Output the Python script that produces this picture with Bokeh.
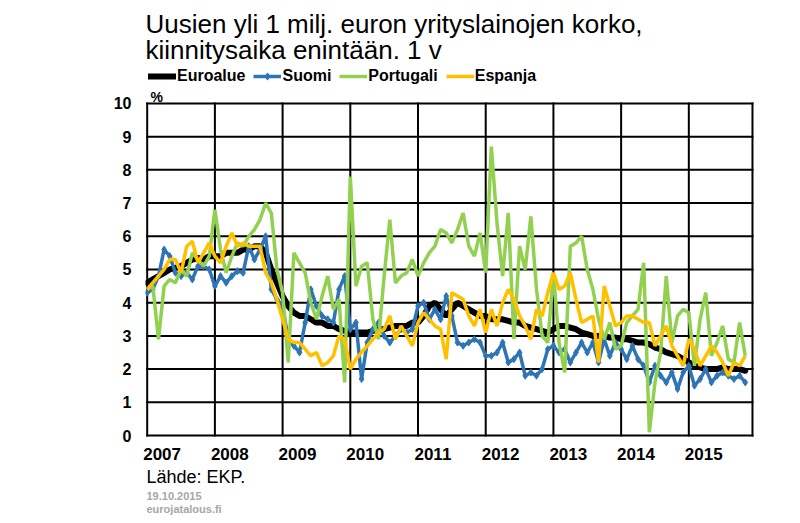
from bokeh.plotting import figure
from bokeh.models import (Range1d, FixedTicker, CustomJSTickFormatter, Title, Label,
                          Legend, LegendItem)
from bokeh.embed import file_html
from bokeh.resources import INLINE

# ---------------- data (monthly, from Jan 2007) ----------------
years = [2007, 2008, 2009, 2010, 2011, 2012, 2013, 2014, 2015]
y_ticks = [0, 1, 2, 3, 4, 5, 6, 7, 8, 9, 10]

euroalue = [
    4.6, 4.7, 4.8, 4.9, 5.0, 5.05, 5.1, 5.2, 5.3, 5.35, 5.3, 5.4,
    5.4, 5.4, 5.5, 5.5, 5.5, 5.6, 5.6, 5.7, 5.7, 5.5, 5.0, 4.6,
    4.2, 3.9, 3.7, 3.6, 3.6, 3.5, 3.4, 3.4, 3.3, 3.3, 3.2, 3.15,
    3.1, 3.1, 3.1, 3.1, 3.15, 3.2, 3.2, 3.25, 3.3, 3.3, 3.3, 3.4,
    3.4, 3.6, 3.9, 4.0, 3.8, 3.6, 3.8, 4.0, 3.9, 3.8, 3.7, 3.6,
    3.6, 3.5, 3.5, 3.5, 3.45, 3.4, 3.4, 3.3, 3.25, 3.2, 3.15, 3.1,
    3.2, 3.3, 3.3, 3.25, 3.2, 3.1, 3.05, 3.0, 3.0, 3.0, 2.95, 2.95,
    2.9, 2.9, 2.85, 2.8, 2.8, 2.75, 2.65, 2.6, 2.5, 2.45, 2.4, 2.3,
    2.2, 2.1, 2.05, 2.0, 2.0, 2.0, 2.05, 2.0, 2.0, 2.0, 1.95,
]
suomi = [
    4.3, 4.4, 4.8, 5.6, 5.4, 4.9, 4.8, 4.9, 4.7, 5.1, 5.1, 5.0,
    4.5, 4.8, 4.6, 4.8, 4.95, 4.9, 5.7, 5.3, 5.6, 6.0, 4.4, 4.1,
    3.9, 2.9, 2.7, 2.5, 3.4, 4.4, 3.9, 3.6, 3.5, 3.4, 4.4, 4.8,
    3.2, 3.4, 1.7, 2.8, 3.2, 3.4, 3.0, 2.8, 3.0, 3.2, 3.1, 3.2,
    3.9, 4.0, 3.5, 3.8, 3.5, 4.2, 3.6, 2.8, 2.7, 2.8, 2.9, 2.8,
    2.4, 2.4, 2.5, 2.8, 2.2, 2.3, 2.5, 1.8, 1.9, 1.8, 2.0, 2.6,
    2.7, 2.5, 2.6, 2.2, 2.5, 2.8, 2.5, 2.8, 2.2, 2.9, 2.4, 2.8,
    2.6, 2.3, 2.7, 2.3, 2.1, 1.6, 2.1, 1.8, 1.6, 1.9, 1.4, 1.9,
    2.1, 1.5, 1.7, 2.0, 1.6, 1.8, 1.9, 1.8, 1.7, 1.8, 1.6,
]
portugali = [
    4.4, 4.5, 2.9, 4.5, 4.7, 4.6, 5.0, 4.8, 5.5, 5.3, 5.1, 5.4,
    6.8, 5.6, 4.9, 5.4, 5.8, 5.7, 6.0, 6.2, 6.5, 7.0, 6.7, 5.0,
    4.3, 2.2, 5.5, 5.2, 4.9, 4.0, 3.5, 4.2, 4.8, 3.8, 4.1, 1.6,
    7.8, 4.5, 5.1, 5.2, 3.5, 2.9, 4.8, 6.5, 4.6, 4.8, 4.9, 5.3,
    4.8, 5.2, 5.5, 5.7, 6.2, 6.1, 5.8, 6.2, 6.7, 5.7, 5.4, 6.1,
    4.9, 8.7, 6.4, 4.8, 6.7, 2.9, 5.7, 5.0, 6.6, 4.4, 3.0, 2.8,
    4.9, 2.8, 1.9, 5.7, 5.8, 6.0, 5.0, 4.4, 3.5, 2.9, 3.4, 2.6,
    2.7, 3.4, 3.6, 3.8, 5.2, 0.1, 1.6, 2.5, 4.8, 2.8, 3.6, 3.8,
    3.7, 2.1, 3.5, 4.3, 2.4, 2.8, 3.3, 2.3, 2.2, 3.4, 2.4,
]
espanja = [
    4.4, 4.6, 4.8, 5.0, 5.3, 5.3, 4.9, 5.7, 5.85, 5.2, 5.5, 5.8,
    5.4, 5.2, 5.7, 6.1, 5.7, 5.8, 5.7, 5.7, 5.7, 4.9, 4.6, 4.1,
    3.5, 2.9, 2.8, 2.8, 2.6, 2.4, 2.5, 2.1, 2.2, 2.4, 3.0, 2.9,
    2.0, 2.3, 2.5, 2.7, 2.9, 3.1, 3.2, 3.6, 2.9, 3.3, 3.0, 2.7,
    3.4, 3.7, 3.5, 3.3, 3.2, 2.3, 4.3, 4.2, 4.1, 3.6, 3.3, 3.8,
    3.1, 3.8, 3.3, 4.0, 4.4, 4.1, 3.6, 3.3, 2.9, 3.8, 3.6, 4.3,
    4.9, 4.4, 4.5, 4.9, 4.1, 3.4, 3.5, 3.6, 2.2, 4.5, 3.9, 3.3,
    3.4, 3.6, 3.6, 3.5, 3.4, 3.4, 2.7, 3.0, 3.3, 2.7, 2.4, 2.1,
    2.9, 2.6, 2.1, 2.4, 2.7, 2.5, 2.2, 1.8, 2.2, 2.1, 2.4,
]
months = [2007 + i / 12 for i in range(len(euroalue))]

title_lines = ["Uusien yli 1 milj. euron yrityslainojen korko,",
               "kiinnitysaika enintään. 1 v"]
unit_text = "%"
source_text = "Lähde: EKP."
date_text = "19.10.2015"
site_text = "eurojatalous.fi"
FONT = "Liberation Sans"

# chart box: from 2007 to X_END horizontally, 0 to 10 vertically
X_END = 2015.94

# ---------------- figure ----------------
W, H = 800, 523
p = figure(width=W, height=H, output_backend="svg", toolbar_location=None,
           x_range=Range1d(2006.975, 2015.97), y_range=Range1d(-0.06, 13.1),
           min_border_left=145, min_border_right=46,
           min_border_top=0, min_border_bottom=86)
p.title.visible = False
p.background_fill_color = "white"
p.border_fill_color = "white"
p.outline_line_color = None
p.xgrid.visible = False
p.ygrid.visible = False

# chart box + grid lines (drawn from the tick lists, bounded to the box)
y0, y1 = y_ticks[0], y_ticks[-1]
x_lines = years + [X_END]
p.segment(x0=x_lines, y0=[y0] * len(x_lines), x1=x_lines, y1=[y1] * len(x_lines),
          line_color="black", line_width=2, line_cap="square")
p.segment(x0=[years[0]] * len(y_ticks), y0=y_ticks, x1=[X_END] * len(y_ticks),
          y1=y_ticks, line_color="black", line_width=2, line_cap="square")

# axes
p.xaxis.ticker = FixedTicker(ticks=[y + 0.22 for y in years])
p.xaxis.formatter = CustomJSTickFormatter(code="return Math.floor(tick).toString();")
p.yaxis.ticker = FixedTicker(ticks=y_ticks)
for ax in (p.xaxis, p.yaxis):
    ax.axis_line_color = None
    ax.major_tick_line_color = None
    ax.minor_tick_line_color = None
    ax.major_tick_out = 0
    ax.major_tick_in = 0
    ax.major_label_text_font = FONT
    ax.major_label_text_font_style = "bold"
    ax.major_label_text_color = "black"
p.xaxis.major_label_text_font_size = "17px"
p.yaxis.major_label_text_font_size = "16px"
p.xaxis.major_label_standoff = 10
p.yaxis.major_label_standoff = 14

# series
r_euro = p.line(months, euroalue, line_color="black", line_width=6, line_cap="round")
r_fi = p.line(months, suomi, line_color="#2E75B6", line_width=3.5)
r_fi_m = p.scatter(months, suomi, marker="diamond", size=7, fill_color="#2E75B6",
                   line_color="#2E75B6")
r_pt = p.line(months, portugali, line_color="#92D050", line_width=3.5)
r_es = p.line(months, espanja, line_color="#FFC000", line_width=3.5)

legend = Legend(items=[
    LegendItem(label="Euroalue", renderers=[r_euro]),
    LegendItem(label="Suomi", renderers=[r_fi, r_fi_m]),
    LegendItem(label="Portugali", renderers=[r_pt]),
    LegendItem(label="Espanja", renderers=[r_es]),
], orientation="horizontal", location=(3, 352))
legend.background_fill_alpha = 0
legend.border_line_color = None
legend.padding = 0
legend.margin = 0
legend.spacing = 8
legend.glyph_width = 28
legend.glyph_height = 18
legend.label_height = 18
legend.label_standoff = 1
legend.label_text_font = FONT
legend.label_text_font_size = "16px"
legend.label_text_font_style = "bold"
legend.label_text_color = "black"
p.add_layout(legend, "center")

FRAME_LEFT, FRAME_BOTTOM = 145, 437


def add_text(cx, cy, text, size, style="normal", color="black"):
    """cx, cy: canvas position converted to frame screen units."""
    p.add_layout(Label(x=cx - FRAME_LEFT, y=FRAME_BOTTOM - cy,
                       x_units="screen", y_units="screen", text=text,
                       text_font=FONT, text_font_size=size, text_font_style=style,
                       text_color=color, text_baseline="alphabetic",
                       text_align="left"))


add_text(145, 23, title_lines[0], "26px")
add_text(145, 49, title_lines[1], "26px")
add_text(150, 96, unit_text, "14px", "bold")

# ---- below panel: footer ----
for txt, size, style, color, so in [(source_text, "18px", "normal", "black", 5),
                                    (date_text, "11px", "bold", "#A6A6A6", 0),
                                    (site_text, "11px", "bold", "#A6A6A6", 3)]:
    p.add_layout(Title(text=txt, align="left", offset=1, standoff=so,
                       text_font=FONT, text_font_size=size, text_font_style=style,
                       text_color=color), "below")

open("out.html", "w").write(file_html(p, INLINE))
